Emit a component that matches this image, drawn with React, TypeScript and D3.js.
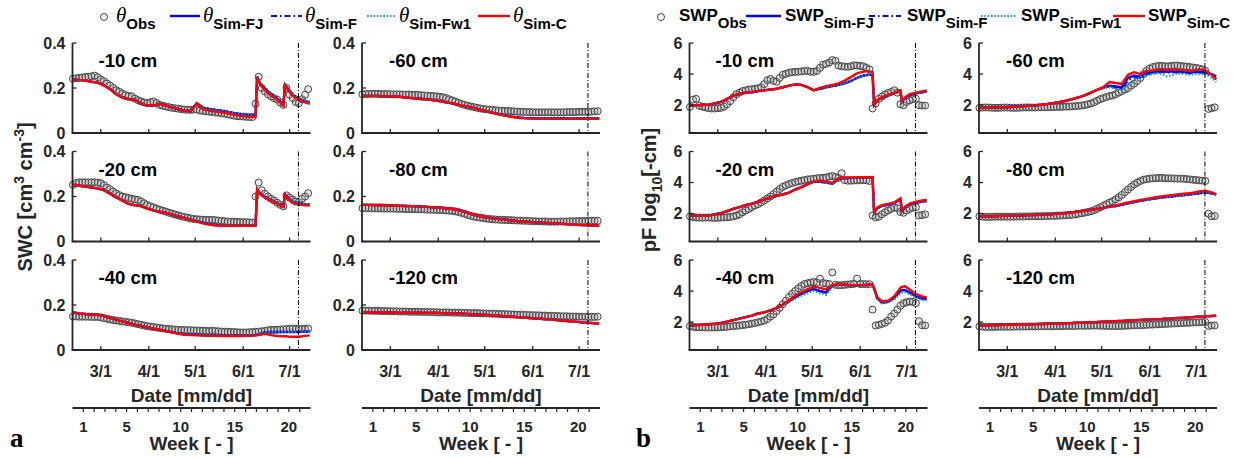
import React from 'react';
import * as d3 from 'd3';

// ---------- shared grids & labels ----------
const obsDays = [42,44,46,48,50,52,54,56,58,60,62,64,66,68,70,72,74,76,78,80,82,84,86,88,90,92,94,96,98,100,102,104,106,108,110,112,114,116,118,120,122,124,126,128,130,132,134,136,138,140,142,144,146,148,150,152,154,156,158,160,162,164,166,168,170,172,174,176,178,180,182,184,186,188,190,192,194];
const simDays = [42,46,50,54,58,62,66,70,74,78,82,86,90,94,98,102,106,110,114,118,122,126,130,134,138,142,146,150,154,157,160,161,163,166,170,174,178,179,181,184,188,192,195];
const dateTicks = [60, 91, 121, 152, 182];
const dateTickLabels = ['3/1', '4/1', '5/1', '6/1', '7/1'];
const weekTicks = [1,2,3,4,5,6,7,8,9,10,11,12,13,14,15,16,17,18,19,20,21];
const weekLabels = [1, 5, 10, 15, 20];
const swcTicks = [0, 0.2, 0.4];
const swpTicks = [2, 4, 6];
const depthLabels = ['-10 cm', '-20 cm', '-40 cm', '-60 cm', '-80 cm', '-120 cm'];
const cutoffDay = 187.7;

// ---------- SWC observed ----------
const swcObs10 = [0.241,0.243,0.245,0.247,0.249,0.25,0.252,0.255,0.248,0.238,0.23,0.22,0.211,0.2,0.19,0.183,0.175,0.168,0.165,0.163,0.153,0.146,0.14,0.136,0.133,0.137,0.14,0.133,0.125,0.121,0.118,0.115,0.112,0.11,0.108,0.106,0.104,0.103,0.103,0.104,0.105,0.1,0.098,0.096,0.095,0.093,0.091,0.09,0.088,0.086,0.083,0.08,0.077,0.075,0.074,0.073,0.072,0.071,0.071,0.13,0.25,0.2,0.185,0.172,0.162,0.155,0.148,0.135,0.125,0.2,0.17,0.155,0.138,0.132,0.15,0.17,0.195];
const swcObs20 = [0.252,0.26,0.263,0.263,0.263,0.263,0.263,0.263,0.262,0.259,0.25,0.24,0.232,0.222,0.213,0.206,0.2,0.197,0.193,0.19,0.187,0.185,0.178,0.17,0.162,0.157,0.152,0.146,0.141,0.137,0.133,0.128,0.124,0.12,0.116,0.112,0.109,0.106,0.103,0.1,0.099,0.098,0.097,0.096,0.096,0.096,0.095,0.093,0.092,0.09,0.089,0.088,0.088,0.087,0.086,0.086,0.086,0.085,0.084,0.2,0.262,0.228,0.212,0.2,0.19,0.182,0.172,0.163,0.156,0.205,0.195,0.186,0.178,0.175,0.19,0.2,0.215];
const swcObs40 = [0.149,0.149,0.148,0.148,0.148,0.148,0.147,0.147,0.147,0.145,0.142,0.139,0.136,0.133,0.131,0.129,0.127,0.125,0.123,0.121,0.118,0.115,0.112,0.109,0.106,0.104,0.102,0.1,0.098,0.096,0.094,0.093,0.092,0.091,0.09,0.089,0.089,0.088,0.088,0.087,0.087,0.086,0.086,0.085,0.084,0.086,0.084,0.083,0.082,0.081,0.081,0.08,0.08,0.079,0.078,0.078,0.078,0.079,0.08,0.081,0.082,0.083,0.085,0.088,0.089,0.09,0.09,0.091,0.092,0.093,0.094,0.095,0.094,0.093,0.093,0.094,0.095];
const swcObs60 = [0.172,0.173,0.173,0.174,0.174,0.174,0.173,0.173,0.173,0.172,0.172,0.172,0.172,0.171,0.171,0.171,0.17,0.17,0.169,0.168,0.167,0.166,0.165,0.164,0.163,0.161,0.159,0.155,0.15,0.145,0.139,0.134,0.129,0.125,0.121,0.118,0.115,0.112,0.109,0.107,0.105,0.104,0.103,0.101,0.1,0.099,0.098,0.098,0.097,0.096,0.095,0.094,0.094,0.093,0.093,0.092,0.092,0.092,0.092,0.092,0.092,0.092,0.092,0.092,0.092,0.092,0.093,0.093,0.093,0.093,0.094,0.094,0.094,0.094,0.095,0.096,0.097];
const swcObs80 = [0.148,0.148,0.148,0.147,0.147,0.147,0.147,0.146,0.146,0.146,0.146,0.145,0.145,0.145,0.144,0.144,0.144,0.143,0.143,0.143,0.142,0.142,0.141,0.141,0.14,0.14,0.139,0.138,0.137,0.136,0.134,0.131,0.127,0.123,0.118,0.114,0.111,0.108,0.106,0.104,0.102,0.1,0.099,0.098,0.097,0.096,0.096,0.095,0.095,0.094,0.093,0.093,0.092,0.092,0.091,0.09,0.09,0.089,0.089,0.089,0.088,0.088,0.088,0.088,0.089,0.089,0.089,0.09,0.09,0.09,0.091,0.091,0.091,0.092,0.092,0.092,0.092];
const swcObs120 = [0.175,0.175,0.175,0.174,0.174,0.174,0.173,0.173,0.173,0.172,0.172,0.172,0.171,0.171,0.171,0.17,0.17,0.17,0.17,0.169,0.169,0.169,0.168,0.168,0.168,0.167,0.167,0.167,0.167,0.166,0.166,0.166,0.165,0.165,0.165,0.164,0.164,0.164,0.163,0.163,0.162,0.162,0.161,0.161,0.16,0.16,0.159,0.159,0.158,0.158,0.157,0.157,0.156,0.156,0.155,0.155,0.154,0.154,0.153,0.153,0.152,0.152,0.151,0.151,0.15,0.15,0.15,0.149,0.149,0.149,0.148,0.148,0.148,0.147,0.147,0.147,0.148];

// ---------- SWC simulated ----------
const swcC10 = [0.237,0.236,0.233,0.228,0.224,0.212,0.195,0.172,0.157,0.15,0.148,0.132,0.122,0.122,0.13,0.122,0.114,0.106,0.099,0.096,0.13,0.106,0.1,0.095,0.092,0.087,0.082,0.076,0.073,0.072,0.071,0.245,0.215,0.19,0.166,0.148,0.121,0.212,0.19,0.165,0.148,0.136,0.13];
const swcFJ10 = [0.237,0.236,0.233,0.228,0.224,0.212,0.195,0.172,0.157,0.15,0.148,0.132,0.122,0.122,0.13,0.122,0.114,0.106,0.1,0.098,0.133,0.113,0.107,0.102,0.098,0.093,0.088,0.083,0.08,0.079,0.078,0.25,0.22,0.195,0.17,0.152,0.125,0.215,0.195,0.17,0.153,0.142,0.137];
const swcC20 = [0.252,0.248,0.244,0.24,0.236,0.228,0.212,0.196,0.181,0.167,0.161,0.157,0.146,0.138,0.132,0.127,0.12,0.112,0.105,0.097,0.088,0.081,0.075,0.071,0.07,0.07,0.07,0.07,0.07,0.07,0.07,0.23,0.21,0.195,0.182,0.167,0.153,0.207,0.19,0.172,0.165,0.161,0.16];
const swcFJ20 = [0.252,0.248,0.244,0.24,0.236,0.228,0.212,0.196,0.181,0.167,0.161,0.157,0.146,0.138,0.132,0.127,0.12,0.112,0.105,0.098,0.09,0.084,0.078,0.074,0.073,0.073,0.073,0.073,0.073,0.073,0.073,0.232,0.213,0.198,0.185,0.17,0.156,0.21,0.194,0.177,0.17,0.166,0.165];
const swcC40 = [0.167,0.163,0.16,0.158,0.156,0.151,0.143,0.135,0.127,0.12,0.113,0.107,0.101,0.095,0.09,0.084,0.078,0.072,0.068,0.066,0.065,0.064,0.063,0.063,0.062,0.062,0.062,0.062,0.063,0.063,0.064,0.065,0.068,0.072,0.066,0.062,0.061,0.061,0.06,0.059,0.059,0.063,0.065];
const swcFJ40 = [0.167,0.163,0.16,0.158,0.156,0.151,0.143,0.135,0.127,0.12,0.113,0.107,0.101,0.095,0.09,0.085,0.079,0.074,0.07,0.068,0.067,0.066,0.066,0.066,0.065,0.065,0.065,0.065,0.066,0.066,0.067,0.068,0.072,0.078,0.08,0.08,0.08,0.08,0.08,0.08,0.08,0.081,0.082];
const swcC60 = [0.165,0.165,0.165,0.164,0.164,0.163,0.161,0.158,0.155,0.152,0.15,0.147,0.144,0.139,0.134,0.129,0.123,0.117,0.111,0.104,0.097,0.09,0.083,0.077,0.072,0.068,0.065,0.064,0.063,0.063,0.063,0.063,0.063,0.063,0.063,0.063,0.063,0.063,0.063,0.063,0.063,0.063,0.063];
const swcFJ60 = [0.165,0.165,0.165,0.164,0.164,0.163,0.161,0.158,0.155,0.152,0.15,0.147,0.144,0.139,0.134,0.129,0.123,0.117,0.111,0.104,0.097,0.09,0.084,0.078,0.073,0.07,0.067,0.066,0.066,0.066,0.066,0.066,0.066,0.066,0.066,0.066,0.066,0.066,0.066,0.066,0.066,0.066,0.066];
const swcC80 = [0.163,0.163,0.162,0.162,0.161,0.16,0.159,0.158,0.157,0.156,0.155,0.153,0.151,0.149,0.146,0.142,0.135,0.127,0.119,0.112,0.107,0.103,0.1,0.097,0.094,0.091,0.089,0.087,0.085,0.084,0.083,0.083,0.082,0.081,0.079,0.077,0.075,0.075,0.074,0.073,0.072,0.071,0.071];
const swcC120 = [0.167,0.167,0.167,0.167,0.167,0.167,0.166,0.166,0.166,0.166,0.165,0.165,0.165,0.164,0.163,0.162,0.161,0.16,0.158,0.157,0.156,0.154,0.152,0.15,0.148,0.146,0.144,0.142,0.14,0.139,0.137,0.137,0.136,0.134,0.131,0.129,0.126,0.126,0.125,0.123,0.121,0.119,0.117];

// ---------- SWP observed ----------
const swpObs10 = [1.88,2.35,2.4,1.95,1.9,1.85,1.8,1.78,1.78,1.8,1.82,1.9,2.05,2.25,2.5,2.7,2.8,2.9,2.95,3.0,3.02,3.05,3.08,3.15,3.35,3.6,3.68,3.55,3.5,3.75,3.95,4.02,4.08,4.12,4.14,4.15,4.17,4.2,4.2,4.15,4.14,4.2,4.4,4.6,4.65,4.75,4.9,4.85,4.55,4.5,4.48,4.46,4.5,4.56,4.55,4.52,4.5,4.4,4.3,1.78,2.1,2.4,2.55,2.68,2.78,2.85,2.95,2.8,2.05,1.99,2.2,2.3,2.38,2.41,1.99,1.97,1.97];
const swpObs20 = [1.82,1.78,1.75,1.74,1.73,1.74,1.74,1.73,1.72,1.73,1.74,1.75,1.76,1.78,1.82,1.87,1.95,2.08,2.2,2.3,2.42,2.52,2.6,2.72,2.85,2.98,3.1,3.25,3.42,3.58,3.72,3.82,3.9,3.97,4.03,4.08,4.12,4.16,4.2,4.22,4.24,4.27,4.29,4.3,4.33,4.38,4.42,4.36,4.3,4.6,4.15,4.12,4.12,4.13,4.14,4.15,4.16,4.14,4.1,1.88,1.76,1.8,1.95,2.08,2.2,2.3,2.4,2.35,2.1,2.05,2.2,2.3,2.38,2.41,1.88,1.9,1.95];
const swpObs40 = [1.75,1.7,1.67,1.66,1.66,1.65,1.65,1.65,1.65,1.66,1.67,1.68,1.7,1.72,1.74,1.76,1.78,1.8,1.83,1.86,1.9,1.94,1.98,2.03,2.1,2.2,2.35,2.5,2.7,2.92,3.15,3.38,3.62,3.82,4.0,4.18,4.32,4.45,4.5,4.55,4.58,4.55,4.8,4.52,4.48,4.45,5.2,4.4,4.37,4.38,4.4,4.42,4.44,4.46,4.8,4.45,4.45,4.44,4.44,2.8,1.78,1.82,1.88,1.95,2.1,2.35,2.55,2.8,3.05,3.2,3.28,3.32,3.3,3.22,2.05,1.8,1.78];
const swpObs60 = [1.82,1.84,1.85,1.84,1.83,1.82,1.82,1.83,1.84,1.84,1.83,1.82,1.82,1.83,1.84,1.85,1.85,1.84,1.84,1.85,1.86,1.86,1.86,1.87,1.87,1.88,1.88,1.89,1.9,1.9,1.92,1.93,1.95,1.97,2.0,2.05,2.1,2.18,2.28,2.38,2.45,2.52,2.58,2.62,2.7,2.8,2.9,3.0,3.1,3.25,3.38,3.55,3.75,4.0,4.2,4.35,4.45,4.5,4.52,4.52,4.5,4.5,4.52,4.55,4.55,4.52,4.5,4.48,4.45,4.42,4.4,4.35,4.3,4.2,1.75,1.8,1.85];
const swpObs80 = [1.82,1.8,1.78,1.78,1.79,1.8,1.8,1.8,1.8,1.8,1.8,1.8,1.81,1.81,1.81,1.82,1.82,1.82,1.83,1.83,1.83,1.84,1.84,1.85,1.85,1.86,1.87,1.88,1.89,1.9,1.92,1.95,1.98,2.02,2.06,2.1,2.15,2.22,2.3,2.4,2.5,2.6,2.7,2.8,2.92,3.05,3.2,3.38,3.55,3.72,3.88,4.0,4.1,4.18,4.22,4.25,4.27,4.28,4.3,4.3,4.28,4.27,4.27,4.26,4.25,4.25,4.24,4.22,4.2,4.18,4.16,4.14,4.12,4.1,1.99,1.82,1.84];
const swpObs120 = [1.72,1.7,1.69,1.69,1.69,1.69,1.7,1.7,1.7,1.7,1.7,1.7,1.71,1.71,1.71,1.71,1.72,1.72,1.72,1.72,1.73,1.73,1.73,1.73,1.74,1.74,1.74,1.74,1.75,1.75,1.75,1.75,1.76,1.76,1.76,1.76,1.77,1.77,1.77,1.77,1.76,1.75,1.75,1.74,1.74,1.75,1.75,1.76,1.77,1.78,1.79,1.8,1.8,1.81,1.82,1.83,1.84,1.85,1.86,1.87,1.88,1.89,1.9,1.91,1.92,1.93,1.94,1.95,1.96,1.97,1.98,1.99,2.0,2.0,1.75,1.78,1.78];

// ---------- SWP simulated ----------
const swpC10 = [1.95,1.98,2.0,2.03,2.1,2.2,2.4,2.6,2.75,2.8,2.83,2.9,2.95,3.0,3.05,3.15,3.25,3.33,3.3,3.15,2.95,3.1,3.22,3.3,3.4,3.58,3.8,4.05,4.15,4.2,4.12,2.03,2.3,2.5,2.65,2.8,2.94,2.24,2.5,2.7,2.8,2.88,2.94];
const swpFJ10 = [1.95,1.98,2.0,2.03,2.1,2.2,2.4,2.6,2.75,2.8,2.83,2.9,2.95,3.0,3.05,3.15,3.25,3.33,3.3,3.15,2.95,3.05,3.15,3.22,3.3,3.4,3.55,3.75,3.9,3.95,3.95,2.0,2.28,2.48,2.62,2.77,2.9,2.2,2.45,2.65,2.75,2.82,2.88];
const swpC20 = [1.88,1.87,1.86,1.88,1.95,2.03,2.15,2.3,2.42,2.55,2.64,2.75,2.9,3.05,3.15,3.23,3.35,3.55,3.7,3.9,4.08,4.14,4.05,3.98,4.28,4.32,4.33,4.33,4.34,4.34,4.35,2.09,2.38,2.55,2.62,2.72,2.98,2.2,2.45,2.65,2.76,2.84,2.88];
const swpFJ20 = [1.88,1.87,1.86,1.88,1.95,2.03,2.15,2.3,2.42,2.55,2.64,2.75,2.9,3.05,3.15,3.23,3.35,3.55,3.7,3.9,4.05,4.05,4.0,3.92,4.22,4.28,4.3,4.3,4.3,4.3,4.3,2.05,2.33,2.5,2.57,2.67,2.92,2.15,2.4,2.6,2.7,2.77,2.8];
const swpC40 = [1.78,1.8,1.83,1.86,1.89,1.95,2.03,2.12,2.22,2.32,2.42,2.55,2.62,2.75,2.9,3.13,3.4,3.7,3.92,4.12,4.27,4.2,4.1,4.4,4.45,4.42,4.38,4.38,4.4,4.43,4.42,4.2,3.6,3.35,3.38,3.65,4.2,4.27,4.3,4.1,3.8,3.65,3.59];
const swpFJ40 = [1.78,1.8,1.83,1.86,1.89,1.95,2.03,2.12,2.22,2.32,2.42,2.55,2.62,2.75,2.9,3.13,3.35,3.6,3.82,4.0,4.12,4.0,3.9,4.35,4.4,4.4,4.37,4.37,4.38,4.4,4.4,4.15,3.55,3.25,3.3,3.55,4.0,4.05,4.05,3.9,3.65,3.52,3.47];
const swpFw140 = [1.78,1.8,1.83,1.86,1.89,1.95,2.03,2.12,2.22,2.32,2.42,2.55,2.62,2.75,2.9,3.1,3.3,3.5,3.7,3.88,4.0,3.85,3.75,4.3,4.38,4.38,4.35,4.35,4.36,4.38,4.38,4.1,3.5,3.2,3.25,3.45,3.85,3.9,3.92,3.8,3.55,3.42,3.38];
const swpC60 = [1.82,1.83,1.84,1.85,1.86,1.88,1.9,1.92,1.95,1.98,2.02,2.07,2.13,2.2,2.28,2.38,2.5,2.63,2.8,2.98,3.15,3.48,3.42,3.36,3.95,4.12,4.0,4.2,4.22,4.28,4.3,4.3,4.28,4.3,4.27,4.25,4.2,4.2,4.25,4.3,4.25,3.95,3.68];
const swpFJ60 = [1.82,1.83,1.84,1.85,1.86,1.88,1.9,1.92,1.95,1.98,2.02,2.07,2.13,2.2,2.28,2.38,2.5,2.63,2.8,2.98,3.12,3.25,3.2,3.15,3.75,3.9,3.8,4.05,4.1,4.15,4.18,4.18,4.15,4.18,4.15,4.12,4.1,4.1,4.12,4.15,4.1,4.0,3.85];
const swpF60 = [1.82,1.83,1.84,1.85,1.86,1.88,1.9,1.92,1.95,1.98,2.02,2.07,2.13,2.2,2.28,2.38,2.5,2.63,2.8,2.98,3.1,3.2,3.12,3.05,3.6,3.8,3.75,4.0,4.05,4.1,4.12,4.12,4.1,4.12,4.1,4.08,4.05,4.05,4.08,4.1,4.05,3.9,3.65];
const swpFw160 = [1.82,1.83,1.84,1.85,1.86,1.88,1.9,1.92,1.95,1.98,2.02,2.07,2.13,2.2,2.28,2.38,2.5,2.63,2.8,2.98,3.08,3.15,3.05,2.98,3.3,3.65,3.8,3.95,4.0,4.05,4.0,3.95,3.85,3.9,4.05,4.0,3.95,3.95,4.0,4.0,4.0,3.75,3.5];
const swpC80 = [1.82,1.82,1.83,1.84,1.85,1.86,1.87,1.88,1.9,1.91,1.93,1.95,1.97,2.0,2.04,2.08,2.13,2.18,2.24,2.3,2.37,2.45,2.53,2.62,2.72,2.8,2.88,2.95,3.02,3.07,3.11,3.12,3.15,3.19,3.24,3.28,3.32,3.33,3.37,3.42,3.47,3.36,3.26];
const swpFJ80 = [1.82,1.82,1.83,1.84,1.85,1.86,1.87,1.88,1.9,1.91,1.93,1.95,1.97,2.0,2.04,2.08,2.13,2.18,2.24,2.3,2.37,2.43,2.48,2.57,2.66,2.74,2.82,2.88,2.95,3.0,3.03,3.04,3.07,3.1,3.15,3.19,3.23,3.24,3.27,3.31,3.36,3.3,3.22];
const swpC120 = [1.78,1.79,1.8,1.81,1.82,1.83,1.84,1.85,1.86,1.87,1.88,1.89,1.9,1.91,1.93,1.94,1.96,1.97,1.99,2.0,2.02,2.04,2.06,2.08,2.1,2.12,2.14,2.16,2.18,2.19,2.2,2.21,2.22,2.23,2.26,2.28,2.31,2.32,2.33,2.35,2.37,2.39,2.41];

// ---------- panel definitions ----------
const swcPanels = [
  { col: 0, row: 0, label: depthLabels[0], obs: swcObs10, fj: swcFJ10, f: swcFJ10, fw1: swcFJ10, c: swcC10 },
  { col: 0, row: 1, label: depthLabels[1], obs: swcObs20, fj: swcFJ20, f: swcFJ20, fw1: swcFJ20, c: swcC20 },
  { col: 0, row: 2, label: depthLabels[2], obs: swcObs40, fj: swcFJ40, f: swcFJ40, fw1: swcFJ40, c: swcC40 },
  { col: 1, row: 0, label: depthLabels[3], obs: swcObs60, fj: swcFJ60, f: swcFJ60, fw1: swcFJ60, c: swcC60 },
  { col: 1, row: 1, label: depthLabels[4], obs: swcObs80, fj: swcC80, f: swcC80, fw1: swcC80, c: swcC80 },
  { col: 1, row: 2, label: depthLabels[5], obs: swcObs120, fj: swcC120, f: swcC120, fw1: swcC120, c: swcC120 },
];
const swpPanels = [
  { col: 2, row: 0, label: depthLabels[0], obs: swpObs10, fj: swpFJ10, f: swpFJ10, fw1: swpFJ10, c: swpC10 },
  { col: 2, row: 1, label: depthLabels[1], obs: swpObs20, fj: swpFJ20, f: swpFJ20, fw1: swpFJ20, c: swpC20 },
  { col: 2, row: 2, label: depthLabels[2], obs: swpObs40, fj: swpFJ40, f: swpFJ40, fw1: swpFw140, c: swpC40 },
  { col: 3, row: 0, label: depthLabels[3], obs: swpObs60, fj: swpFJ60, f: swpF60, fw1: swpFw160, c: swpC60 },
  { col: 3, row: 1, label: depthLabels[4], obs: swpObs80, fj: swpFJ80, f: swpFJ80, fw1: swpFJ80, c: swpC80 },
  { col: 3, row: 2, label: depthLabels[5], obs: swpObs120, fj: swpC120, f: swpC120, fw1: swpC120, c: swpC120 },
];

// ---------- layout ----------
const W = 238, H = 90;
const colX = [72.5, 362, 689.5, 979];
const rowY = [43, 151.5, 260];
const weekY = 408;
const AX = '#262626';
const SANS = '"Liberation Sans", Arial, sans-serif';
const SERIF = '"Liberation Serif", "Times New Roman", serif';
const BLUE = '#0000ff';
const TEAL = '#17a3a3';
const RED = '#ff0000';
const OBS = '#454545';

const x = d3.scaleLinear().domain([41.7, 195.5]).range([0, W]);
const xWeek = d3.scaleLinear().domain([0, 22]).range([0, W]);
const ySwc = d3.scaleLinear().domain([0, 0.4]).range([H, 0]);
const ySwp = d3.scaleLinear().domain([0.2, 6]).range([H, 0]);

type PanelDef = { col: number; row: number; label: string; obs: number[]; fj: number[]; f: number[]; fw1: number[]; c: number[] };

function Panel({ p, y, ticks, fmt }: { p: PanelDef; y: d3.ScaleLinear<number, number>; ticks: number[]; fmt: (v: number) => string }) {
  const line = d3.line<number>().x((_, i) => x(simDays[i])).y((v) => y(v));
  const bottom = p.row === 2;
  return (
    <g transform={`translate(${colX[p.col]},${rowY[p.row]})`}>
      {p.obs.map((v, i) => (
        <circle key={i} cx={x(obsDays[i])} cy={y(v)} r={3.5} fill="rgba(160,160,160,0.25)" stroke={OBS} strokeWidth={1} />
      ))}
      <path d={line(p.fj) || ''} fill="none" stroke={BLUE} strokeWidth={2.4} />
      <path d={line(p.f) || ''} fill="none" stroke={BLUE} strokeWidth={2.2} strokeDasharray="6,3,1.5,3" />
      <path d={line(p.fw1) || ''} fill="none" stroke={TEAL} strokeWidth={2.2} strokeDasharray="1.5,1.8" />
      <path d={line(p.c) || ''} fill="none" stroke={RED} strokeWidth={2.4} />
      <line x1={x(cutoffDay)} x2={x(cutoffDay)} y1={0} y2={H} stroke="#000" strokeWidth={1} strokeDasharray="5,2,1,2" />
      {/* axes */}
      <line x1={0} x2={0} y1={0} y2={H} stroke={AX} strokeWidth={1.8} />
      <line x1={-0.9} x2={W} y1={H} y2={H} stroke={AX} strokeWidth={1.8} />
      {ticks.map((t) => (
        <g key={t}>
          <line x1={0} x2={4} y1={y(t)} y2={y(t)} stroke={AX} strokeWidth={1.3} />
          <text x={-7} y={y(t)} dy="0.36em" textAnchor="end" fontFamily={SANS} fontWeight="bold" fontSize={16} fill={AX}>{fmt(t)}</text>
        </g>
      ))}
      {dateTicks.map((t) => (
        <line key={t} x1={x(t)} x2={x(t)} y1={H} y2={H - 4} stroke={AX} strokeWidth={1.3} />
      ))}
      <text x={p.col % 2 === 0 ? 26 : 27} y={24} fontFamily={SANS} fontWeight="bold" fontSize={18.5} fill="#000">{p.label}</text>
      {bottom && (
        <g>
          {dateTicks.map((t, i) => (
            <text key={t} x={x(t)} y={H + 27} textAnchor="middle" fontFamily={SANS} fontWeight="bold" fontSize={16} fill={AX}>{dateTickLabels[i]}</text>
          ))}
          <text x={W / 2} y={H + 52} textAnchor="middle" fontFamily={SANS} fontWeight="bold" fontSize={19} fill={AX}>Date [mm/dd]</text>
          <g transform={`translate(0,${weekY - rowY[2]})`}>
            <line x1={0} x2={W} y1={0} y2={0} stroke={AX} strokeWidth={1.8} />
            {weekTicks.map((w) => (
              <line key={w} x1={xWeek(w)} x2={xWeek(w)} y1={0} y2={4} stroke={AX} strokeWidth={1.2} />
            ))}
            {weekLabels.map((w) => (
              <text key={w} x={xWeek(w)} y={24} textAnchor="middle" fontFamily={SANS} fontWeight="bold" fontSize={15} fill={AX}>{w}</text>
            ))}
            <text x={W / 2} y={42} textAnchor="middle" fontFamily={SANS} fontWeight="bold" fontSize={19} fill={AX}>Week [ - ]</text>
          </g>
        </g>
      )}
    </g>
  );
}

function LegendLine({ x1, x2, kind }: { x1: number; x2: number; kind: string }) {
  const props: any = { x1, x2, y1: 16, y2: 16, fill: 'none' };
  if (kind === 'fj') return <line {...props} stroke={BLUE} strokeWidth={2.4} />;
  if (kind === 'f') return <line {...props} stroke={BLUE} strokeWidth={2.2} strokeDasharray="6,3,1.5,3" />;
  if (kind === 'fw1') return <line {...props} stroke={TEAL} strokeWidth={2.2} strokeDasharray="1.5,1.8" />;
  return <line {...props} stroke={RED} strokeWidth={2.4} />;
}

const legendKinds = ['fj', 'f', 'fw1', 'c'];
const legendSubs = ['Obs', 'Sim-FJ', 'Sim-F', 'Sim-Fw1', 'Sim-C'];
const legendLeftX = [[170, 200], [271, 302], [367, 396], [478, 510]];
const legendLeftTextX = [116, 203, 305, 399, 513];
const legendRightX = [[746, 781], [869, 901], [981, 1017], [1113, 1145]];
const legendRightTextX = [679, 785, 907, 1021, 1148];

export default function App() {
  return (
    <svg width={1236} height={458} style={{ display: 'block', position: 'absolute', left: 0, top: 0, background: '#fff' }}>
      {/* legends */}
      <circle cx={104} cy={17} r={3.5} fill="none" stroke={OBS} strokeWidth={1} />
      {legendKinds.map((k, i) => <LegendLine key={k} x1={legendLeftX[i][0]} x2={legendLeftX[i][1]} kind={k} />)}
      {legendSubs.map((s, i) => (
        <text key={s} x={legendLeftTextX[i]} y={22} fill="#000">
          <tspan fontFamily={SERIF} fontStyle="italic" fontSize={21}>θ</tspan>
          <tspan fontFamily={SANS} fontWeight="bold" fontSize={15} dy={7}>{s}</tspan>
        </text>
      ))}
      <circle cx={661} cy={17} r={3.5} fill="none" stroke={OBS} strokeWidth={1} />
      {legendKinds.map((k, i) => <LegendLine key={'r' + k} x1={legendRightX[i][0]} x2={legendRightX[i][1]} kind={k} />)}
      {legendSubs.map((s, i) => (
        <text key={'r' + s} x={legendRightTextX[i]} y={21} fill="#000" fontFamily={SANS} fontWeight="bold">
          <tspan fontSize={17}>SWP</tspan>
          <tspan fontSize={15} dy={7}>{s}</tspan>
        </text>
      ))}

      {swcPanels.map((p) => <Panel key={'swc' + p.label} p={p} y={ySwc} ticks={swcTicks} fmt={(v) => (v === 0 ? '0' : String(v))} />)}
      {swpPanels.map((p) => <Panel key={'swp' + p.label} p={p} y={ySwp} ticks={swpTicks} fmt={(v) => String(v)} />)}

      {/* y-axis titles */}
      <text transform="translate(32,197) rotate(-90)" textAnchor="middle" fontFamily={SANS} fontWeight="bold" fontSize={20} fill={AX}>
        SWC [cm<tspan fontSize={14} dy={-8}>3</tspan><tspan dy={8}> cm</tspan><tspan fontSize={14} dy={-8}>-3</tspan><tspan dy={8}>]</tspan>
      </text>
      <text transform="translate(656,190) rotate(-90)" textAnchor="middle" fontFamily={SANS} fontWeight="bold" fontSize={20} fill={AX}>
        pF log<tspan fontSize={14} dy={6}>10</tspan><tspan dy={-6}>[-cm]</tspan>
      </text>

      {/* panel letters */}
      <text x={10} y={447} fontFamily={SERIF} fontWeight="bold" fontSize={27} fill="#000">a</text>
      <text x={636} y={447} fontFamily={SERIF} fontWeight="bold" fontSize={27} fill="#000">b</text>
    </svg>
  );
}
